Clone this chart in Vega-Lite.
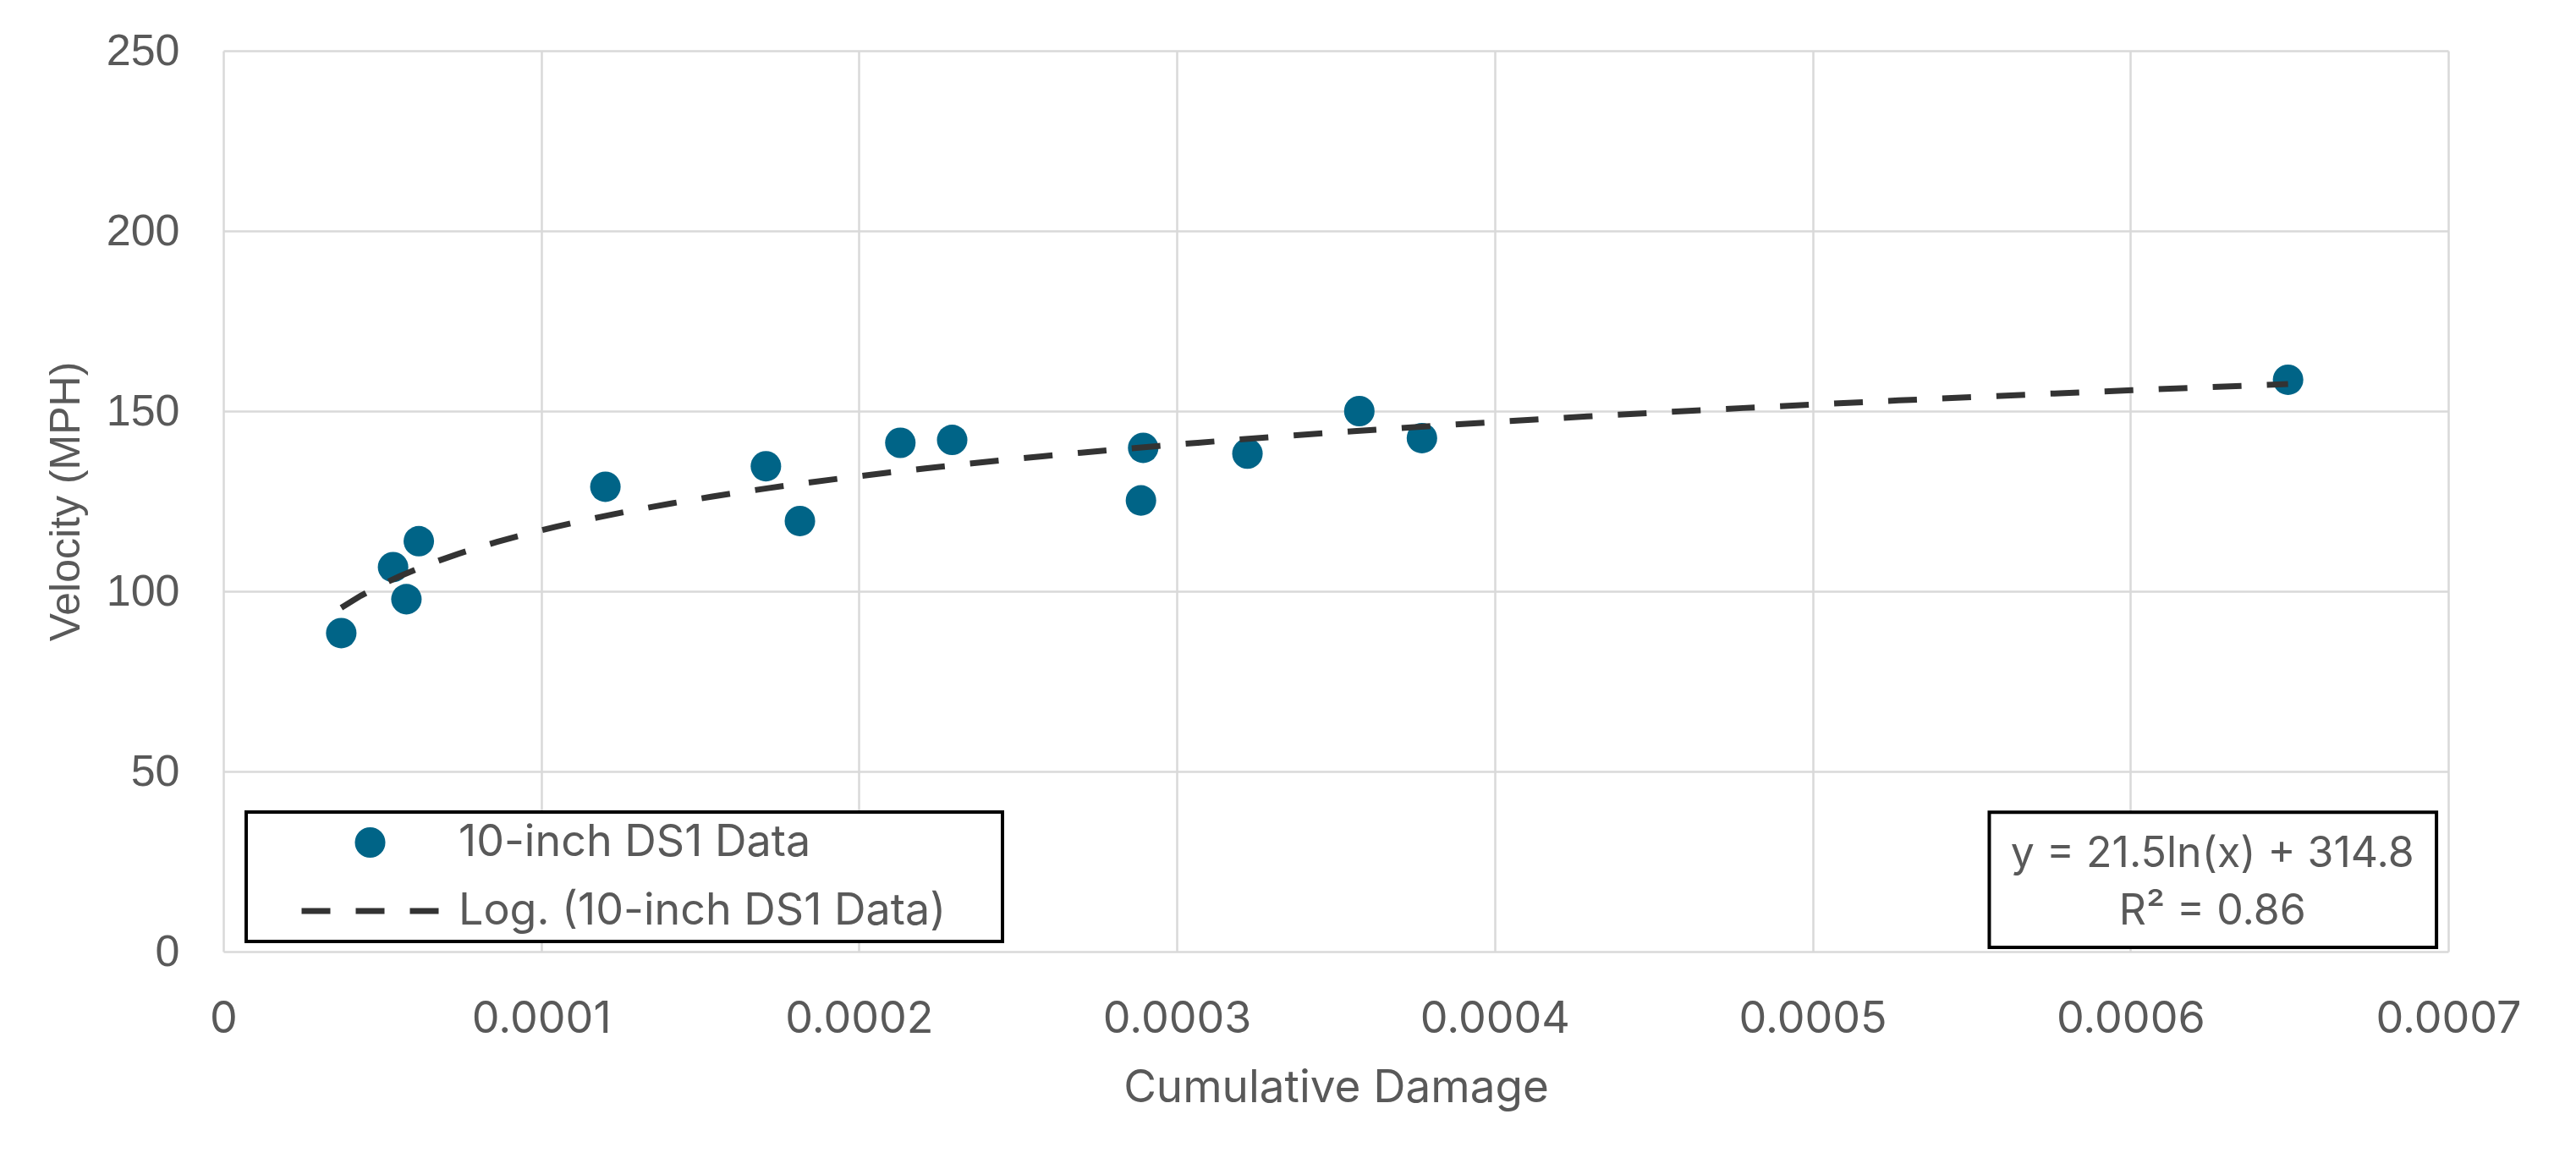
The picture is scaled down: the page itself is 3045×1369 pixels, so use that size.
{
  "$schema": "https://vega.github.io/schema/vega-lite/v6.json",
  "width": 2630,
  "height": 1065,
  "autosize": {"type": "none"},
  "padding": {"left": 264, "top": 60, "right": 151, "bottom": 244},
  "background": "white",
  "config": {
    "view": {"stroke": null},
    "font": "Inter",
    "axis": {
      "gridColor": "#d9d9d9",
      "gridWidth": 2.5,
      "domain": false,
      "ticks": false,
      "labelColor": "#595959",
      "titleColor": "#595959",
      "titleFontWeight": "normal"
    },
    "legend": {"strokeWidth": 4, "symbolStrokeWidth": 7}
  },
  "data": {
    "values": [
      {"damage": 0.0000371, "velocity": 88.4},
      {"damage": 0.0000534, "velocity": 106.7},
      {"damage": 0.0000576, "velocity": 97.8},
      {"damage": 0.0000615, "velocity": 113.9},
      {"damage": 0.0001202, "velocity": 129.0},
      {"damage": 0.0001707, "velocity": 134.7},
      {"damage": 0.0001814, "velocity": 119.5},
      {"damage": 0.000213, "velocity": 141.2},
      {"damage": 0.0002293, "velocity": 142.0},
      {"damage": 0.0002894, "velocity": 139.8},
      {"damage": 0.0002887, "velocity": 125.2},
      {"damage": 0.0003222, "velocity": 138.2},
      {"damage": 0.0003574, "velocity": 150.0},
      {"damage": 0.0003771, "velocity": 142.5},
      {"damage": 0.0006496, "velocity": 158.7}
    ]
  },
  "layer": [
    {
      "mark": {"type": "point", "filled": true, "opacity": 1},
      "encoding": {
        "x": {
          "field": "damage",
          "type": "quantitative",
          "title": "Cumulative Damage",
          "scale": {"domain": [0, 0.0007], "nice": false, "zero": true},
          "axis": {
            "values": [0, 0.0001, 0.0002, 0.0003, 0.0004, 0.0005, 0.0006, 0.0007],
            "format": "~f",
            "labelFont": "Inter",
            "labelFontSize": 52,
            "labelPadding": 54,
            "titleFont": "Inter",
            "titleFontSize": 53,
            "titlePadding": 30,
            "labelFlush": false,
            "labelOverlap": false
          }
        },
        "y": {
          "field": "velocity",
          "type": "quantitative",
          "title": "Velocity (MPH)",
          "scale": {"domain": [0, 250], "nice": false},
          "axis": {
            "values": [0, 50, 100, 150, 200, 250],
            "labelFont": "Liberation Sans",
            "labelFontSize": 52,
            "labelPadding": 52,
            "titleFont": "Liberation Sans",
            "titleFontSize": 50,
            "titlePadding": 22,
            "labelFlush": false,
            "labelOverlap": false
          }
        },
        "color": {
          "datum": "10-inch DS1 Data",
          "scale": {
            "domain": ["10-inch DS1 Data", "Log. (10-inch DS1 Data)"],
            "range": ["#006487", "#333333"]
          },
          "legend": {
            "title": " ",
            "titleOrient": "right",
            "titlePadding": 61,
            "titleFontSize": 6,
            "orient": "none",
            "legendX": 27,
            "legendY": 900,
            "direction": "vertical",
            "strokeColor": "black",
            "fillColor": "white",
            "padding": 6,
            "labelFont": "Inter",
            "labelFontSize": 52,
            "labelColor": "#595959",
            "labelLimit": 1000,
            "symbolOffset": 56,
            "labelOffset": 20,
            "clipHeight": 60,
            "rowPadding": 21
          }
        },
        "shape": {
          "datum": "10-inch DS1 Data",
          "scale": {
            "domain": ["10-inch DS1 Data", "Log. (10-inch DS1 Data)"],
            "range": ["circle", "stroke"]
          }
        },
        "stroke": {
          "datum": "10-inch DS1 Data",
          "scale": {
            "domain": ["10-inch DS1 Data", "Log. (10-inch DS1 Data)"],
            "range": ["transparent", "#333333"]
          }
        },
        "strokeDash": {
          "datum": "10-inch DS1 Data",
          "scale": {
            "domain": ["10-inch DS1 Data", "Log. (10-inch DS1 Data)"],
            "range": [[1, 0], [34, 30]]
          }
        },
        "size": {
          "datum": "10-inch DS1 Data",
          "scale": {
            "domain": ["10-inch DS1 Data", "Log. (10-inch DS1 Data)"],
            "range": [1300, 26244]
          }
        }
      }
    },
    {
      "transform": [{"regression": "velocity", "on": "damage", "method": "log"}],
      "mark": {"type": "line", "strokeWidth": 7, "strokeDash": [34, 30], "color": "#333333"},
      "encoding": {
        "x": {"field": "damage", "type": "quantitative"},
        "y": {"field": "velocity", "type": "quantitative"}
      }
    },
    {
      "data": {"values": [{}]},
      "mark": {"type": "rect", "fill": "white", "stroke": "black", "strokeWidth": 4},
      "encoding": {
        "x": {"datum": 0.0005556},
        "x2": {"datum": 0.0006963},
        "y": {"datum": 38.7},
        "y2": {"datum": 1.2}
      }
    },
    {
      "data": {"values": [{}]},
      "mark": {
        "type": "text",
        "text": ["y = 21.5ln(x) + 314.8", "R² = 0.86"],
        "font": "Inter",
        "fontSize": 50,
        "lineHeight": 68,
        "align": "center",
        "baseline": "middle",
        "color": "#595959"
      },
      "encoding": {
        "x": {"datum": 0.0006258},
        "y": {"datum": 27.0}
      }
    }
  ]
}
